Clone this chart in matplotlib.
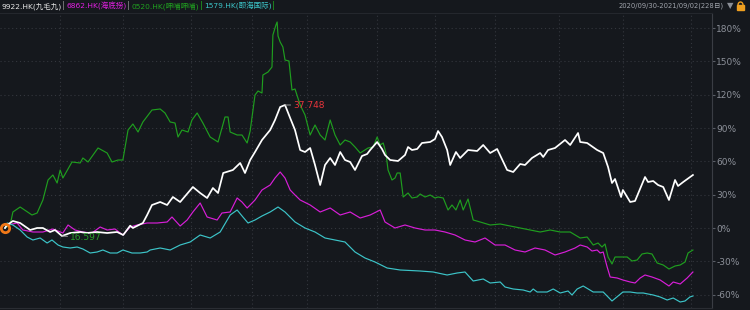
import numpy as np
import matplotlib

matplotlib.use("Agg")
import matplotlib.pyplot as plt
from matplotlib.patches import Rectangle, Arc

plt.rcParams["font.family"] = ["DejaVu Sans", "Noto Sans CJK SC"]

# trading-day index (0 = 2020/09/30) and cumulative return in %
white_day = [0, 0.7, 2.6, 5, 8.3, 10.6, 12.5, 14.9, 16.5, 18.8, 21.5, 24.8, 27, 30.4, 33.7, 37, 39,
             41.3, 42.2, 45.5, 46.9, 48.5, 51.2, 53.5, 55.4, 57.8, 62, 64.4, 66.7, 68.6, 70.3, 72,
             75.2, 77.6, 79.2, 80.9, 82.5, 84.8, 87.5, 89.1, 90.8, 92.4, 94.1, 95.7, 97.4, 99,
             100.7, 102.3, 104, 105.6, 107.3, 108.9, 110.6, 112.2, 113.9, 115.5, 117.8, 119.5,
             120.5, 122.8, 124.4, 125.4, 127.1, 129.7, 132, 133, 134.3, 136, 137.6, 140.3, 141.9,
             142.9, 144.2, 145.9, 146.9, 148.8, 150.2, 152.8, 155.8, 157.8, 160.1, 162.4, 165.7,
             167.7, 170, 171.6, 173.9, 176.6, 177.6, 179.2, 181.5, 184.8, 186.5, 189.1, 189.8,
             192.1, 195.4, 197.4, 199, 200.3, 201.3, 203.3, 203.9, 206.3, 207.9, 211.2, 212.2,
             213.9, 215.5, 217.2, 219.1, 221.1, 222.1, 223.8, 227]
white_pct = [0, 2.7, 6.3, 4.5, -1.8, 0, 0, -3.6, -1.8, -7.2, -4.5, -3.6, -4.5, -3.6, -4.5, -3.6, -6.3,
             2.1, 0, 4.5, 11.7, 20.7, 23.4, 20.7, 27.9, 23.4, 36.9, 31.5, 27, 36, 31.5, 49.5,
             52.2, 58.5, 49.5, 61.2, 68.4, 79.2, 88.2, 97.2, 108.9, 110.7, 99, 88.2, 70.2, 68.4,
             72, 56.7, 38.7, 56.7, 63, 56.7, 68.4, 61.2, 59.4, 52.2, 64.8, 66.6,
             70.2, 77.4, 71.1, 65.7, 61.2, 60.3, 65.7, 72.9, 70.2, 71.1, 76.5, 77.4, 80.1,
             87.3, 81.9, 70.2, 56.7, 68.4, 63, 70.2, 69.3, 74.7, 67.5, 71.1, 52.2,
             50.4, 57.6, 56.7, 63, 67.5, 63.9, 70.2, 72, 79.2, 74.7, 85.5, 77.4,
             76.5, 70.2, 67.5, 54.9, 40.5, 44.1, 27.9, 34.2, 23.4, 24.3, 45.9, 41.4,
             42.3, 38.7, 36.9, 25.2, 43.2, 37.8, 41.4, 47.7]

green_day = [0, 1.7, 2.6, 5, 8.9, 10.6, 12.5, 14.2, 15.8, 17.2, 18.2, 19.1, 22.1, 24.8, 25.7, 27.4,
             30.7, 33.7, 35.3, 37.3, 38.9, 40.6, 42.2, 43.9, 45.5, 48.5, 51.2, 52.8, 54.5, 56.1,
             57.1, 58.4, 60.4, 61.7, 63.4, 65.3, 67.7, 70.3, 72.6, 73.6, 74.3, 76.6, 78.2, 79.9,
             80.9, 82.5, 83.5, 84.8, 85.1, 86.8, 88.1, 88.4, 89.4, 89.8, 90.1, 90.8, 91.7, 92.4,
             93.7, 94.1, 94.7, 95.7, 97.4, 99, 100.7, 102.3, 104, 105.6, 107.3, 108.9, 110.6,
             112.2, 113.9, 115.5, 117.2, 118.8, 119.8, 121.5, 122.8, 123.8, 124.8, 125.7, 126.4,
             127.7, 128.7, 129.4, 130.4, 131.4, 133, 134.3, 136, 137, 138.6, 140.3, 141.9, 142.9,
             144.6, 146.2, 147.5, 148.8, 150.2, 151.2, 152.8, 154.5, 156.8, 160.1, 163.4, 166.7,
             170, 173.3, 176.6, 179.9, 183.2, 186.5, 189.8, 192.1, 194.1, 195.7, 197, 198, 199,
             200.3, 201.3, 203.6, 205.3, 206.9, 208.6, 210.2, 211.9, 213.5, 215.2, 217.2, 219.1,
             221.1, 222.8, 224.4, 225.4, 227]
green_pct = [0, 2.7, 14.4, 18.9, 11.7, 13.5, 25.2, 43.2, 47.7, 40.5, 52.2, 45, 59.4, 58.5, 63, 59.4,
             72, 67.5, 59.4, 61.2, 61.2, 88.2, 93.6, 86.4, 95.4, 106.2, 107.1, 103.5, 95.4, 94.5,
             81.9, 88.2, 86.4, 97.2, 103.5, 94.5, 81.9, 77.4, 99.9, 99.9, 86.4, 83.7, 83.7, 76.5,
             87.3, 119.7, 123.3, 121.5, 137.7, 140.4, 144.9, 173.7, 182.7, 185.4, 172.8, 167.4,
             162.9, 151.2, 150.3, 139.5, 124.2, 125.1, 110.7, 101.7, 83.7, 92.7, 83.7, 79.2, 97.2,
             83.7, 74.7, 79.2, 77.4, 72.9, 67.5, 70.2, 72, 72.9, 81.9, 74.7, 76.5, 67.5, 52.2,
             43.2, 45, 49.5, 49.5, 27.9, 31.5, 27, 27.9, 30.6, 27.9, 29.7, 27, 27.9,
             27, 16.2, 20.7, 16.2, 25.2, 16.2, 26.1, 7.2, 5.4, 2.7, 3.6, 1.8,
             0, -1.8, -3.6, -1.8, -3.6, -3.6, -9, -8.1, -15.3, -13.5, -17.1, -14.4, -26.1,
             -32.4, -26.1, -26.1, -26.1, -29.7, -28.8, -23.4, -22.5, -23.4, -31.5, -33.3, -36.9,
             -34.2, -33.3, -30.6, -22.5, -19.8]

magenta_day = [0, 0.7, 4, 5.9, 9.2, 12.5, 15.8, 19.1, 20.8, 23.1, 25.7, 28.7, 31.4, 33.7, 36.3,
               38.9, 41.3, 43.6, 46.9, 50.2, 53.5, 55.1, 57.8, 60.1, 62, 64.4, 66.7, 70, 71.6,
               74.3, 76.6, 78.2, 79.9, 80.9, 82.5, 84.8, 87.5, 89.1, 90.8, 92.4, 94.1, 95.7, 97.4,
               100.7, 104, 107.3, 110.6, 113.9, 117.2, 120.5, 123.8, 125.4, 128.7, 132, 135.3,
               138.6, 141.9, 145.2, 148.5, 151.8, 155.1, 158.4, 161.7, 165, 168.3, 171.6, 174.9,
               178.2, 181.5, 184.8, 188.1, 189.8, 192.1, 193.7, 195.4, 196.4, 197.4, 198.7, 199.7,
               202, 203.9, 206.3, 207.9, 209.6, 211.2, 213.5, 216.2, 219.1, 220.5, 222.8, 225.1, 227]
magenta_pct = [0, 2.7, 4.5, -1.8, -3.6, -3.6, -0.9, -4.5, 2.7, -1.8, -3.6, -4.5, 0.9, -1.8, -0.9,
               -6.3, 0.9, 2.7, 4.5, 4.5, 5.4, 9.9, 1.8, 7.2, 14.4, 22.5, 9.9, 7.2, 13.5,
               14.4, 27, 23.4, 18, 20.7, 25.2, 34.2, 38.7, 45, 50.4, 45, 34.2, 29.7, 25.2,
               20.7, 14.4, 18, 11.7, 14.4, 9, 11.7, 16.2, 5.4, 0, 2.7, 0,
               -1.8, -1.8, -3.6, -6.3, -10.8, -12.6, -9, -15.3, -15.3, -19.8, -21.6, -18,
               -19.8, -24.3, -21.6, -18, -15.3, -17.1, -20.7, -19.8, -22.5, -21.6, -35.1, -44.1,
               -45, -46.8, -48.6, -49.5, -45, -42.3, -44.1, -46.8, -52.2, -48.6, -50.4, -45, -39.6]

cyan_day = [0, 0.7, 2.6, 5, 7.3, 9.2, 11.6, 13.9, 15.5, 17.5, 19.1, 21.5, 23.8, 25.7, 28.1, 30.4,
            32.3, 34.7, 37, 38.9, 41.9, 44.6, 46.9, 47.9, 51.2, 54.5, 57.8, 61.1, 64.4, 67.7, 71,
            74.3, 76.6, 78.5, 80.2, 82.5, 84.8, 87.5, 90.1, 92.4, 95.7, 99, 102.3, 105.6, 108.9,
            112.2, 115.5, 118.8, 122.1, 126.1, 130.4, 137, 141.3, 145.9, 149.2, 151.8, 154.5,
            157.8, 160.1, 163.4, 165, 167.7, 171, 173.3, 174.3, 175.6, 178.9, 180.9, 183.2,
            185.8, 187.1, 188.8, 190.8, 194.1, 197.4, 200.3, 203.9, 206.3, 208.6, 210.6, 212.2,
            213.9, 216.2, 218.5, 220.5, 222.8, 224.4, 226, 227]
cyan_pct = [0, 4.5, 2.7, -1.8, -8.1, -10.8, -9, -13.5, -10.8, -15.3, -17.1, -18, -17.1, -18.9, -22.5,
            -21.6, -19.8, -22.5, -22.5, -19.8, -22.5, -22.5, -21.6, -19.8, -18, -19.8, -15.3, -12.6,
            -6.3, -9, -3.6, 11.7, 16.2, 9.9, 4.5, 7.2, 10.8, 14.4, 18.9, 14.4, 5.4, 0, -3.6, -9,
            -10.8, -12.6, -21.6, -27, -30.6, -36, -37.8, -38.7, -39.6, -42.3, -40.5, -39.6, -47.7,
            -45.9, -49.5, -48.6, -53.1, -54.9, -55.8, -57.6, -54.9, -57.6, -57.6, -54.9, -58.5,
            -56.7, -60.3, -54.9, -52.2, -57.6, -57.6, -65.7, -57.6, -57.6, -58.5, -58.5, -59.4,
            -60.3, -62.1, -64.8, -63, -66.6, -65.7, -62.1, -61.2]

y_ticks = [-60, -30, 0, 30, 60, 90, 120, 150, 180]
month_days = [18.2, 38.9, 61.4, 81.5, 99.7, 122.8, 141.9, 161.7, 182.8, 204, 226.4]
max_price_label = "37.748"
min_price_label = "16.597"
legend_labels = ["9922.HK(九毛九)", "6862.HK(海底捞)", "0520.HK(呷哺呷哺)", "1579.HK(颐海国际)"]
legend_colors = ["#e6e6e6", "#e020e0", "#20a020", "#3cc4c8"]
period_label = "2020/09/30-2021/09/02(228日)"

BG = "#15181d"
GRID = "#34373e"

fig = plt.figure(figsize=(7.5, 3.1), dpi=100, facecolor=BG)
ax = fig.add_axes([0.0, 1 - 308 / 310, 712 / 750, (308 - 13) / 310])
ax.set_facecolor(BG)

ax.plot(green_day, green_pct, color="#1f9e1f", lw=0.85, zorder=3)
ax.plot(magenta_day, magenta_pct, color="#d81ed8", lw=0.85, zorder=3)
ax.plot(cyan_day, cyan_pct, color="#3cc4c8", lw=0.85, zorder=3)
ax.plot(white_day, white_pct, color="#ffffff", lw=1.25, zorder=4)

# start marker
ax.plot([0], [0], marker="o", ms=6, mfc="none", mec="#f07818", mew=2.0, zorder=5, clip_on=False)

# max / min annotations
wp = np.array(white_pct)
imax, imin = int(np.argmax(wp)), int(np.argmin(wp))
ax.annotate(max_price_label, xy=(white_day[imax], wp[imax]), xytext=(6, 0),
            textcoords="offset points", color="#e8353b", fontsize=6.5, va="center",
            arrowprops=dict(arrowstyle="-", color="#9a9a9a", lw=0.7, shrinkA=0, shrinkB=0), zorder=6)
ax.annotate(min_price_label, xy=(white_day[imin], wp[imin]), xytext=(6, -1),
            textcoords="offset points", color="#2aa02a", fontsize=6.5, va="center",
            arrowprops=dict(arrowstyle="-", color="#9a9a9a", lw=0.7, shrinkA=0, shrinkB=0), zorder=6)

ax.set_xlim(-1.65, 233.3)
ax.set_ylim(-72, 193.5)
ax.set_xticks(month_days)
ax.set_xticklabels([])
ax.tick_params(axis="x", length=0)
ax.yaxis.tick_right()
ax.set_yticks(y_ticks)
ax.set_yticklabels([f"{v}%" for v in y_ticks])
ax.tick_params(axis="y", length=2, color="#5a5e66", labelcolor="#8c9099", labelsize=6.5, pad=1)
ax.grid(True, color=GRID, lw=0.8, linestyle=(0, (1, 2.5)))
ax.spines["left"].set_visible(False)
ax.spines["right"].set_color("#3a3d44")
ax.spines["bottom"].set_color("#2a2d33")
ax.spines["top"].set_color("#24272d")

# header legend
renderer = fig.canvas.get_renderer()
YC = 1 - 6 / 310
x = 1
for i, (label, col) in enumerate(zip(legend_labels, legend_colors)):
    t = fig.text(x / 750, YC, label, color=col, fontsize=5.4, va="center", ha="left")
    x += t.get_window_extent(renderer).width + 1
    s = fig.text(x / 750, YC, "|", color="#8a8a8a" if i < 2 else "#1f9e1f", fontsize=6,
                 va="center", ha="left")
    x += s.get_window_extent(renderer).width + 1

fig.text(724 / 750, YC, period_label, color="#a0a4ac", fontsize=4.9, va="center", ha="right")
fig.text(730 / 750, YC, "▼", color="#8a8e96", fontsize=6, va="center", ha="center")
fig.patches.append(Rectangle((737 / 750, 1 - 10 / 310), 7 / 750, 5 / 310, transform=fig.transFigure,
                             color="#f0a020", figure=fig))
fig.patches.append(Arc((740.5 / 750, 1 - 5 / 310), 5 / 750, 6 / 310, theta1=0, theta2=180,
                       transform=fig.transFigure, color="#f0a020", lw=1.0, figure=fig))

fig.savefig("out.png", dpi=100, facecolor=BG)
